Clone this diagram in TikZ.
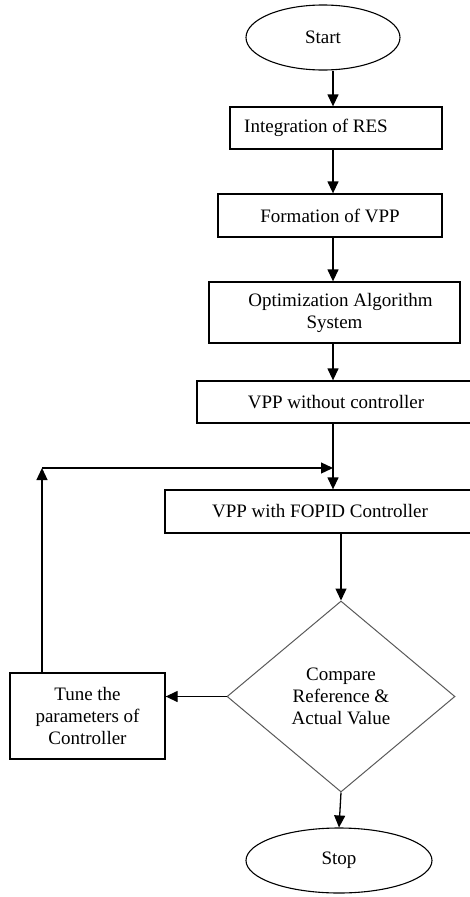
\documentclass[tikz,border=0pt]{standalone}
\usepackage{fontspec}
\setmainfont{Liberation Serif}
\usetikzlibrary{shapes.geometric,arrows.meta}

\begin{document}
\begin{tikzpicture}[x=1pt,y=-1pt,
	every node/.style={font=\fontsize{19}{22}\selectfont,align=center,inner sep=0pt},
	box/.style={draw,rectangle,line width=1.3pt},
	term/.style={draw,ellipse,line width=1.1pt},
	decide/.style={draw=black!65,diamond,line width=1pt},
	arr/.style={-{Triangle[length=12pt,width=11pt]},line width=1.3pt}]
	\useasboundingbox (0,0) rectangle (470,897);
	\clip (0,0) rectangle (470,897);
	\coordinate (axis) at (333,0);
	\coordinate (corner) at (42,468);
	\node[term,minimum width=154,minimum height=65] (start) at (323,37.5) {Start};
	\node[box,minimum width=212,minimum height=42] (res) at (336,128) {Integration of RES\hspace*{40pt}};
	\node[box,minimum width=224,minimum height=43] (form) at (330,215.5) {Formation of VPP};
	\node[box,minimum width=251,minimum height=61] (optim) at (334.5,312.5) {\hspace*{12pt}Optimization Algorithm\\System};
	\node[box,minimum width=278,minimum height=42] (without) at (336,402) {VPP without controller};
	\node[box,minimum width=310,minimum height=43] (fopid) at (320,511.5) {VPP with FOPID Controller};
	\node[decide,minimum width=228,minimum height=191] (compare) at (341,696.5) {Compare\\Reference \&\\Actual Value};
	\node[box,minimum width=155,minimum height=86] (tune) at (87.5,716) {Tune the\\parameters of\\Controller};
	\node[term,minimum width=186,minimum height=65] (stop) at (339,860.5) {Stop};
	\draw[arr] (start.south -| axis) -- (res.north -| axis);
	\draw[arr] (res.south -| axis) -- (form.north -| axis);
	\draw[arr] (form.south -| axis) -- (optim.north -| axis);
	\draw[arr] (optim.south -| axis) -- (without.north -| axis);
	\draw[arr] (without.south -| axis) -- (fopid.north -| axis);
	\draw[arr] (fopid.south -| compare) -- (compare.north);
	\draw[arr] (compare.west) -- (tune.east |- compare.west);
	\draw[arr] (tune.north -| corner) -- (corner);
	\draw[arr] (corner) -- (corner -| axis);
	\draw[arr] (compare.south) -- (stop.north);
\end{tikzpicture}
\end{document}
